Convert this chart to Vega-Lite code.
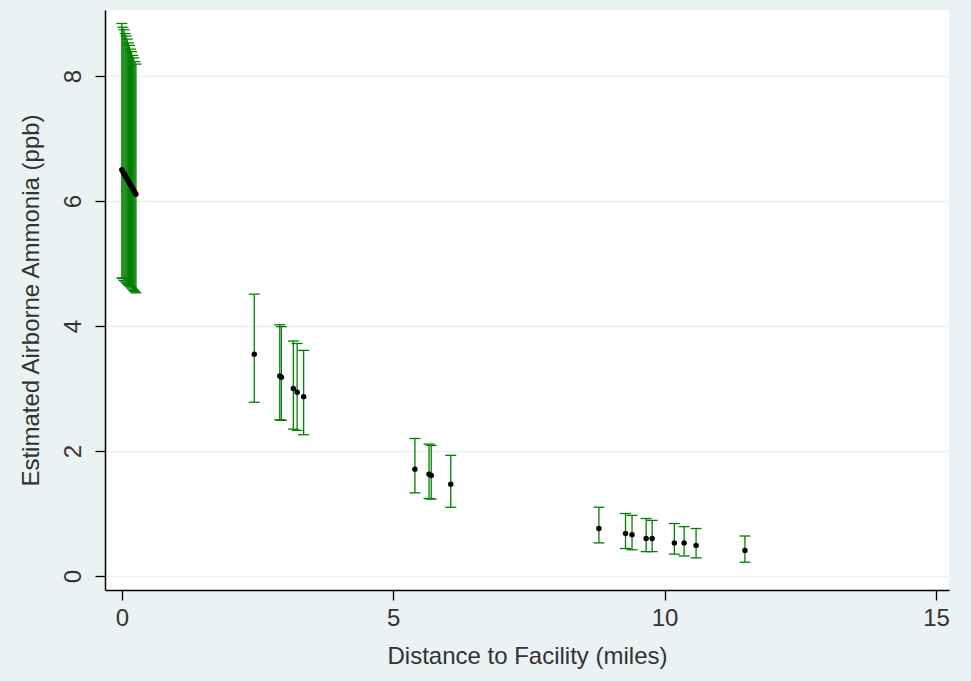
{
  "$schema": "https://vega.github.io/schema/vega-lite/v6.json",
  "width": 844,
  "height": 580,
  "autosize": {"type": "none"},
  "padding": {"left": 105, "top": 10, "right": 22, "bottom": 91},
  "background": "#eaf2f3",
  "config": {
    "view": {"fill": "white", "stroke": null},
    "font": "Liberation Sans",
    "axis": {
      "domainColor": "black",
      "domainWidth": 1.5,
      "tickColor": "black",
      "tickWidth": 1.3,
      "tickSize": 10,
      "labelColor": "#333333",
      "titleColor": "#333333",
      "labelFont": "Liberation Sans",
      "titleFont": "Liberation Sans",
      "labelFontSize": 24,
      "titleFontSize": 24,
      "titleFontWeight": "normal"
    },
    "axisX": {"grid": false, "labelPadding": 6, "titlePadding": 14},
    "axisY": {"gridColor": "#eaf2f3", "gridWidth": 1.5, "labelAngle": -90, "labelAlign": "center", "labelBaseline": "bottom", "labelPadding": 10, "titlePadding": 18}
  },
  "data": {
    "values": [
      {"x": 0.00, "y": 6.50, "hi": 8.84, "lo": 4.77},
      {"x": 0.02, "y": 6.47, "hi": 8.78, "lo": 4.76},
      {"x": 0.04, "y": 6.44, "hi": 8.74, "lo": 4.73},
      {"x": 0.06, "y": 6.41, "hi": 8.68, "lo": 4.72},
      {"x": 0.08, "y": 6.38, "hi": 8.64, "lo": 4.70},
      {"x": 0.10, "y": 6.35, "hi": 8.59, "lo": 4.68},
      {"x": 0.12, "y": 6.32, "hi": 8.53, "lo": 4.66},
      {"x": 0.14, "y": 6.29, "hi": 8.49, "lo": 4.65},
      {"x": 0.16, "y": 6.26, "hi": 8.43, "lo": 4.63},
      {"x": 0.18, "y": 6.23, "hi": 8.39, "lo": 4.61},
      {"x": 0.20, "y": 6.20, "hi": 8.33, "lo": 4.59},
      {"x": 0.22, "y": 6.17, "hi": 8.29, "lo": 4.57},
      {"x": 0.24, "y": 6.14, "hi": 8.23, "lo": 4.55},
      {"x": 0.26, "y": 6.11, "hi": 8.19, "lo": 4.53},
      {"x": 2.44, "y": 3.55, "hi": 4.51, "lo": 2.78},
      {"x": 2.91, "y": 3.20, "hi": 4.02, "lo": 2.50},
      {"x": 2.94, "y": 3.18, "hi": 3.99, "lo": 2.49},
      {"x": 3.16, "y": 3.00, "hi": 3.76, "lo": 2.35},
      {"x": 3.23, "y": 2.94, "hi": 3.72, "lo": 2.33},
      {"x": 3.35, "y": 2.87, "hi": 3.61, "lo": 2.26},
      {"x": 5.40, "y": 1.71, "hi": 2.20, "lo": 1.33},
      {"x": 5.66, "y": 1.63, "hi": 2.11, "lo": 1.24},
      {"x": 5.70, "y": 1.61, "hi": 2.09, "lo": 1.23},
      {"x": 6.06, "y": 1.47, "hi": 1.93, "lo": 1.10},
      {"x": 8.79, "y": 0.76, "hi": 1.10, "lo": 0.53},
      {"x": 9.28, "y": 0.68, "hi": 1.00, "lo": 0.44},
      {"x": 9.40, "y": 0.66, "hi": 0.97, "lo": 0.42},
      {"x": 9.66, "y": 0.60, "hi": 0.92, "lo": 0.39},
      {"x": 9.77, "y": 0.60, "hi": 0.89, "lo": 0.39},
      {"x": 10.18, "y": 0.53, "hi": 0.84, "lo": 0.35},
      {"x": 10.36, "y": 0.53, "hi": 0.79, "lo": 0.32},
      {"x": 10.58, "y": 0.49, "hi": 0.76, "lo": 0.29},
      {"x": 11.48, "y": 0.41, "hi": 0.64, "lo": 0.22}
    ]
  },
  "encoding": {
    "x": {
      "field": "x",
      "type": "quantitative",
      "scale": {"domain": [-0.31, 15.24], "nice": false, "zero": false},
      "axis": {"values": [0, 5, 10, 15], "format": "d", "title": "Distance to Facility (miles)"}
    }
  },
  "layer": [
    {
      "mark": {"type": "rule", "color": "#008000", "strokeWidth": 1.3},
      "encoding": {
        "y": {
          "field": "lo",
          "type": "quantitative",
          "scale": {"domain": [-0.224, 9.056], "nice": false, "zero": false},
          "axis": {"values": [0, 2, 4, 6, 8], "format": "d", "title": "Estimated Airborne Ammonia (ppb)"}
        },
        "y2": {"field": "hi"}
      }
    },
    {
      "mark": {"type": "tick", "orient": "horizontal", "color": "#008000", "size": 11, "thickness": 1.3, "opacity": 1},
      "encoding": {
        "y": {"field": "hi", "type": "quantitative", "title": "Estimated Airborne Ammonia (ppb)"}
      }
    },
    {
      "mark": {"type": "tick", "orient": "horizontal", "color": "#008000", "size": 11, "thickness": 1.3, "opacity": 1},
      "encoding": {
        "y": {"field": "lo", "type": "quantitative", "title": "Estimated Airborne Ammonia (ppb)"}
      }
    },
    {
      "mark": {"type": "point", "filled": true, "color": "black", "size": 30, "opacity": 1},
      "encoding": {
        "y": {"field": "y", "type": "quantitative", "title": "Estimated Airborne Ammonia (ppb)"}
      }
    }
  ]
}
